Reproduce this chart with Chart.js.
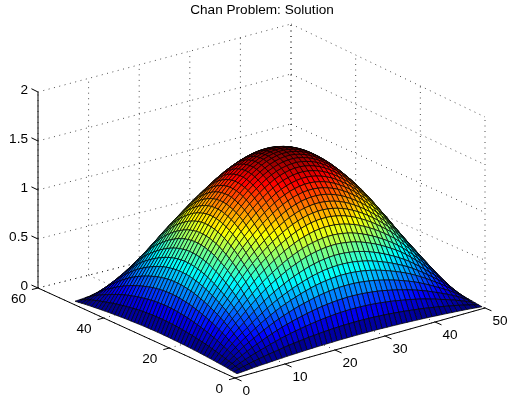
<!DOCTYPE html>
<html><head><meta charset="utf-8">
<style>html,body{margin:0;padding:0;background:#fff}canvas{display:block}</style>
<script src="https://cdn.jsdelivr.net/npm/chart.js@4/dist/chart.umd.js"></script>
</head><body><canvas id="c" width="509" height="401"></canvas>
<script>
const titleText = "Chan Problem: Solution";
const xTicks = [0,10,20,30,40,50];
const yTicks = [0,20,40,60];
const zTicks = [0,0.5,1,1.5,2];
const zTickLabels = ["0","0.5","1","1.5","2"];
// surface heights read for one quadrant of the 50x50 mesh (mirrored to the other three)
const zQuadrant = [
[.003,.007,.012,.017,.021,.025,.028,.032,.035,.038,.042,.044,.047,.049,.052,.054,.056,.057,.059,.060,.062,.063,.063,.064,.064],
[.007,.021,.035,.048,.060,.071,.081,.091,.101,.110,.120,.128,.135,.142,.148,.155,.160,.165,.170,.174,.177,.180,.182,.183,.184],
[.012,.035,.058,.079,.099,.117,.134,.150,.167,.182,.198,.211,.223,.235,.245,.255,.264,.273,.280,.287,.292,.297,.300,.303,.304],
[.017,.048,.079,.108,.135,.160,.183,.206,.229,.250,.270,.289,.306,.321,.336,.349,.362,.373,.384,.393,.400,.406,.411,.414,.416],
[.021,.060,.099,.135,.169,.200,.229,.257,.286,.312,.338,.361,.382,.401,.420,.437,.452,.466,.479,.491,.500,.508,.514,.518,.520],
[.025,.071,.117,.160,.200,.237,.271,.305,.339,.370,.400,.428,.453,.476,.497,.517,.536,.553,.568,.582,.593,.602,.609,.614,.616],
[.028,.081,.134,.183,.229,.271,.310,.348,.387,.422,.458,.489,.517,.543,.568,.591,.612,.631,.649,.665,.677,.688,.696,.701,.704],
[.032,.091,.150,.206,.257,.305,.348,.392,.436,.475,.515,.550,.582,.611,.639,.665,.689,.710,.730,.748,.762,.774,.782,.789,.792],
[.035,.101,.167,.229,.286,.339,.387,.436,.484,.528,.572,.612,.647,.679,.710,.739,.766,.789,.811,.831,.847,.860,.869,.876,.880],
[.038,.110,.182,.250,.312,.370,.422,.475,.528,.576,.624,.667,.706,.741,.775,.806,.835,.861,.885,.906,.924,.938,.948,.956,.960],
[.042,.120,.198,.270,.338,.400,.458,.515,.572,.624,.676,.723,.764,.803,.839,.874,.905,.933,.959,.982,1.000,1.016,1.028,1.036,1.040],
[.044,.128,.211,.289,.361,.428,.489,.550,.612,.667,.723,.773,.817,.858,.897,.934,.967,.997,1.025,1.050,1.070,1.086,1.099,1.108,1.112],
[.047,.135,.223,.306,.382,.453,.517,.582,.647,.706,.764,.817,.864,.908,.949,.988,1.023,1.055,1.084,1.110,1.131,1.149,1.162,1.171,1.176],
[.049,.142,.235,.321,.401,.476,.543,.611,.679,.741,.803,.858,.908,.953,.997,1.037,1.074,1.108,1.139,1.166,1.188,1.207,1.220,1.230,1.235],
[.052,.148,.245,.336,.420,.497,.568,.639,.710,.775,.839,.897,.949,.997,1.042,1.084,1.123,1.158,1.190,1.219,1.242,1.261,1.276,1.286,1.291],
[.054,.155,.255,.349,.437,.517,.591,.665,.739,.806,.874,.934,.988,1.037,1.084,1.129,1.169,1.206,1.239,1.269,1.293,1.313,1.328,1.339,1.344],
[.056,.160,.264,.362,.452,.536,.612,.689,.766,.835,.905,.967,1.023,1.074,1.123,1.169,1.211,1.249,1.283,1.314,1.339,1.360,1.375,1.386,1.392],
[.057,.165,.273,.373,.466,.553,.631,.710,.789,.861,.933,.997,1.055,1.108,1.158,1.206,1.249,1.287,1.323,1.355,1.381,1.402,1.418,1.429,1.435],
[.059,.170,.280,.384,.479,.568,.649,.730,.811,.885,.959,1.025,1.084,1.139,1.190,1.239,1.283,1.323,1.360,1.392,1.419,1.441,1.457,1.469,1.475],
[.060,.174,.287,.393,.491,.582,.665,.748,.831,.906,.982,1.050,1.110,1.166,1.219,1.269,1.314,1.355,1.392,1.425,1.453,1.475,1.492,1.504,1.510],
[.062,.177,.292,.400,.500,.593,.677,.762,.847,.924,1.000,1.070,1.131,1.188,1.242,1.293,1.339,1.381,1.419,1.453,1.481,1.504,1.521,1.533,1.539],
[.063,.180,.297,.406,.508,.602,.688,.774,.860,.938,1.016,1.086,1.149,1.207,1.261,1.313,1.360,1.402,1.441,1.475,1.504,1.527,1.544,1.557,1.563],
[.063,.182,.300,.411,.514,.609,.696,.782,.869,.948,1.028,1.099,1.162,1.220,1.276,1.328,1.375,1.418,1.457,1.492,1.521,1.544,1.562,1.575,1.581],
[.064,.183,.303,.414,.518,.614,.701,.789,.876,.956,1.036,1.108,1.171,1.230,1.286,1.339,1.386,1.429,1.469,1.504,1.533,1.557,1.575,1.588,1.594],
[.064,.184,.304,.416,.520,.616,.704,.792,.880,.960,1.040,1.112,1.176,1.235,1.291,1.344,1.392,1.435,1.475,1.510,1.539,1.563,1.581,1.594,1.600]
];
const N = 50, XMAX = 50, YMAX = 60, ZMAX_COLOR = 1.6;
const zAt = (i,j)=> zQuadrant[(i<=25?i:51-i)-1][(j<=25?j:51-j)-1];

// 3D view: corner anchors of the floor and the height scale at each corner
const C00=[235,378], C10=[485,308], C01=[38,288], C11=[291,224];
const H00=94, H10=95.5, H01=98, H11=100;
const mix=(u,v,a,b,c,d)=>a*(1-u)*(1-v)+b*u*(1-v)+c*(1-u)*v+d*u*v;
function project(x,y,z){
  const u=x/XMAX, v=y/YMAX;
  return {x:mix(u,v,C00[0],C10[0],C01[0],C11[0]), y:mix(u,v,C00[1],C10[1],C01[1],C11[1])-z*mix(u,v,H00,H10,H01,H11)};
}
// mesh corners seen in the view
const M00=[237,374], M10=[482,307], M01=[75,301.5], M11=[323.3,238];
function meshPoint(i,j){
  const u=(i-1)/(N-1), v=(j-1)/(N-1), z=zAt(i,j);
  return {x:mix(u,v,M00[0],M10[0],M01[0],M11[0]), y:mix(u,v,M00[1],M10[1],M01[1],M11[1])-z*mix(u,v,H00,H10,H01,H11)};
}
function jet(t){
  const f=v=>Math.round(255*Math.max(0,Math.min(1,v)));
  const v=4*Math.min(63,Math.floor(t*64))/63;
  return `rgb(${f(Math.min(v-1.5,-v+4.5))},${f(Math.min(v-0.5,-v+3.5))},${f(Math.min(v+0.5,-v+2.5))})`;
}
const datasets=[];
// surface: front cells first, since Chart.js paints the first dataset last
for(let i=1;i<N;i++)for(let j=1;j<N;j++){
  const a=meshPoint(i,j),b=meshPoint(i+1,j),c=meshPoint(i+1,j+1),d=meshPoint(i,j+1);
  datasets.push({data:[a,b,c,d,a],showLine:true,fill:'shape',backgroundColor:jet(zAt(i,j)/ZMAX_COLOR),
    borderColor:'#000',borderWidth:0.7,pointRadius:0,tension:0});
}
const solid=(p,q,w)=>datasets.push({data:[p,q],showLine:true,fill:false,borderColor:'#000',borderWidth:w||1,pointRadius:0});
const dotted=(p,q)=>datasets.push({data:[p,q],showLine:true,fill:false,borderColor:'#000',borderWidth:0.7,borderDash:[1,4.5],pointRadius:0});
// axes and ticks
solid(project(0,0,0),project(XMAX,0,0));
solid(project(0,0,0),project(0,YMAX,0));
solid(project(0,YMAX,0),project(0,YMAX,2));
xTicks.forEach(x=>solid(project(x,0,0),project(x,-2,0)));
yTicks.forEach(y=>solid(project(0,y,0),project(-1.2,y,0)));
zTicks.forEach(z=>solid(project(0,YMAX,z),project(0,YMAX+2,z)));
// grid on floor and back walls
xTicks.forEach(x=>{dotted(project(x,0,0),project(x,YMAX,0));dotted(project(x,YMAX,0),project(x,YMAX,2));});
yTicks.forEach(y=>{dotted(project(0,y,0),project(XMAX,y,0));dotted(project(XMAX,y,0),project(XMAX,y,2));});
zTicks.forEach(z=>{dotted(project(0,YMAX,z),project(XMAX,YMAX,z));dotted(project(XMAX,YMAX,z),project(XMAX,0,z));});

const labelPlugin={id:'labels',afterDatasetsDraw(chart){
  const g=chart.ctx,sx=chart.scales.x,sy=chart.scales.y;
  const put=(p,dx,dy,t,al)=>{g.textAlign=al;g.fillText(t,sx.getPixelForValue(p.x)+dx,sy.getPixelForValue(p.y)+dy);};
  g.save();g.fillStyle='#000';g.font='13.6px "Liberation Sans"';g.textBaseline='middle';
  xTicks.forEach(x=>put(project(x,0,0),7.5,13,String(x),'left'));
  yTicks.forEach(y=>put(project(0,y,0),-12,11,String(y),'right'));
  zTicks.forEach((z,k)=>put(project(0,YMAX,z),-10,-2,zTickLabels[k],'right'));
  g.textAlign='center';g.fillText(titleText,262,10);
  g.restore();
}};
new Chart(document.getElementById('c'),{type:'scatter',data:{datasets},plugins:[labelPlugin],options:{
  responsive:false,animation:false,events:[],layout:{padding:0},
  plugins:{legend:{display:false},tooltip:{enabled:false},title:{display:false}},
  scales:{x:{type:'linear',min:0,max:509,display:false},y:{type:'linear',min:0,max:401,reverse:true,display:false}}
}});
</script></body></html>
